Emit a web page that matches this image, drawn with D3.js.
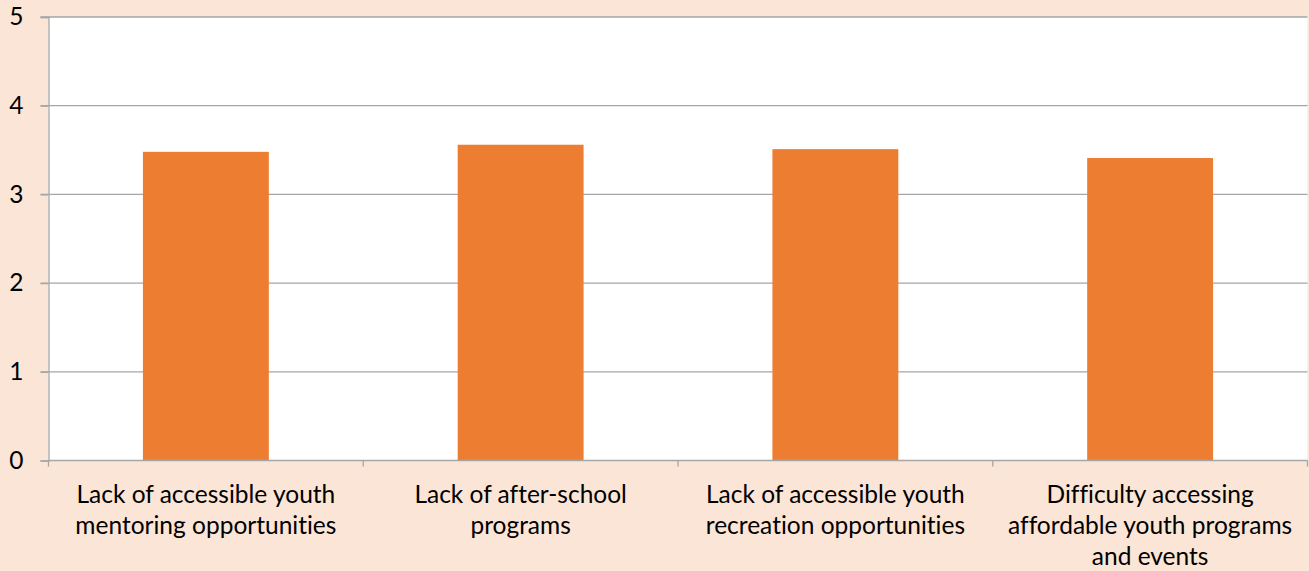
<!DOCTYPE html>
<html>
<head>
<meta charset="utf-8">
<script src="https://cdn.jsdelivr.net/npm/d3@7"></script>
<style>
  html, body { margin: 0; padding: 0; background: #FBE5D6; }
  svg { display: block; }
  text { font-family: Lato, "Open Sans", sans-serif; fill: #000; font-variant-ligatures: none; font-feature-settings: "liga" 0, "clig" 0; }
</style>
</head>
<body>
<svg id="chart" width="1309" height="571"></svg>
<script>
// Category labels, one array of lines per category
const categories = [
  "Lack of accessible youth mentoring opportunities",
  "Lack of after-school programs",
  "Lack of accessible youth recreation opportunities",
  "Difficulty accessing affordable youth programs and events"
];
const categoryLines = [
  ["Lack of accessible youth", "mentoring opportunities"],
  ["Lack of after-school", "programs"],
  ["Lack of accessible youth", "recreation opportunities"],
  ["Difficulty accessing", "affordable youth programs", "and events"]
];
const values = [3.48, 3.56, 3.51, 3.41];
const yTicks = [0, 1, 2, 3, 4, 5];

const W = 1309, H = 571;
const plot = { left: 48.5, right: 1307.5, top: 17, bottom: 460.5 };
const fontSize = 24.5;

const svg = d3.select("#chart");

const x = d3.scaleBand()
  .domain(categories)
  .range([plot.left, plot.right])
  .paddingInner(0)
  .paddingOuter(0);

const y = d3.scaleLinear()
  .domain([0, 5])
  .range([plot.bottom, plot.top]);

// plot area
svg.append("rect")
  .attr("x", plot.left)
  .attr("y", plot.top)
  .attr("width", plot.right - plot.left)
  .attr("height", plot.bottom - plot.top)
  .attr("fill", "#FFFFFF");

// gridlines
svg.append("g")
  .selectAll("line")
  .data(yTicks.filter(d => d > 0))
  .join("line")
  .attr("x1", plot.left - 8)
  .attr("x2", plot.right)
  .attr("y1", d => y(d))
  .attr("y2", d => y(d))
  .attr("stroke", "#A6A6A6")
  .attr("stroke-width", 1.3);

// bars
const barFrac = 0.4;
svg.append("g")
  .selectAll("rect")
  .data(categories)
  .join("rect")
  .attr("x", (d) => x(d) + x.bandwidth() * (1 - barFrac) / 2)
  .attr("width", x.bandwidth() * barFrac)
  .attr("y", (d, i) => y(values[i]))
  .attr("height", (d, i) => y(0) - y(values[i]))
  .attr("fill", "#ED7D31");

// y axis
const yAxis = d3.axisLeft(y)
  .tickValues(yTicks)
  .tickSize(8)
  .tickPadding(17)
  .tickFormat(d3.format("d"));
const gy = svg.append("g")
  .attr("transform", `translate(${plot.left},0)`)
  .call(yAxis);
gy.select(".domain").attr("stroke", "#A6A6A6").attr("stroke-width", 1.3);
gy.selectAll(".tick line").attr("stroke", "#A6A6A6").attr("stroke-width", 1.3);
gy.selectAll(".tick text")
  .attr("font-size", fontSize)
  .attr("font-family", "Lato, sans-serif")
  .attr("fill", "#000");

// x axis (ticks at category boundaries)
const boundaries = categories.map(c => x(c)).concat([plot.right]);
const gx = svg.append("g");
gx.append("line")
  .attr("x1", plot.left).attr("x2", plot.right)
  .attr("y1", plot.bottom).attr("y2", plot.bottom)
  .attr("stroke", "#A6A6A6").attr("stroke-width", 1.3);
gx.selectAll("line.tk")
  .data(boundaries)
  .join("line")
  .attr("class", "tk")
  .attr("x1", d => d).attr("x2", d => d)
  .attr("y1", plot.bottom).attr("y2", plot.bottom + 6)
  .attr("stroke", "#A6A6A6").attr("stroke-width", 1.3);

// category labels
const lineH = 31;
const lab = svg.append("g")
  .selectAll("text")
  .data(categories)
  .join("text")
  .attr("text-anchor", "middle")
  .attr("font-size", fontSize)
  .attr("x", d => x(d) + x.bandwidth() / 2)
  .attr("y", 503);
lab.each(function(d, i) {
  d3.select(this).selectAll("tspan")
    .data(categoryLines[i])
    .join("tspan")
    .attr("x", x(d) + x.bandwidth() / 2)
    .attr("dy", (t, j) => j === 0 ? 0 : lineH)
    .text(t => t);
});
</script>
</body>
</html>
